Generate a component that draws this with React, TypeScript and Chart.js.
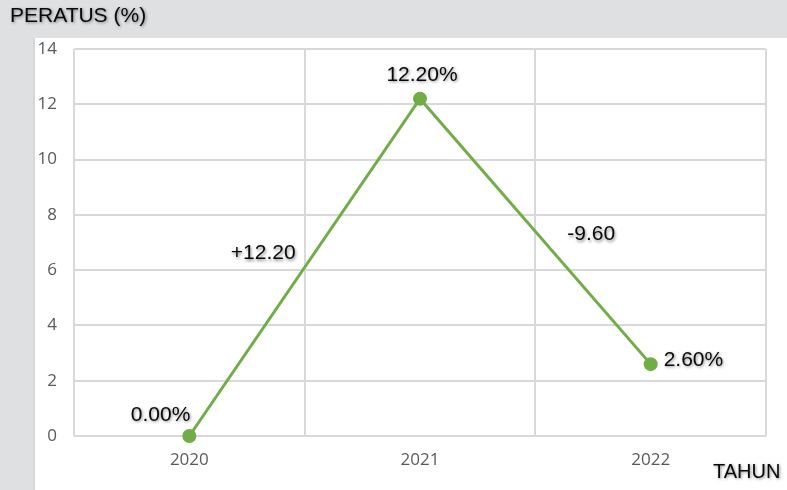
import React, { useEffect, useRef } from "react";
import { Chart, registerables } from "chart.js";

Chart.register(...registerables);

const categories = ["2020", "2021", "2022"];
const values = [0, 12.2, 2.6];
const yTicks = [0, 2, 4, 6, 8, 10, 12, 14];
const yTitle = "PERATUS (%)";
const xTitle = "TAHUN";

const W = 787;
const H = 490;

const fmtPct = (v: number) => v.toFixed(2) + "%";
const fmtDiff = (d: number) => (d >= 0 ? "+" : "") + d.toFixed(2);

const backgroundPlugin = {
  id: "bgPanel",
  beforeDraw(chart: any) {
    const ctx = chart.ctx;
    ctx.save();
    ctx.fillStyle = "#dfe0e1";
    ctx.fillRect(0, 0, chart.width, chart.height);
    ctx.fillStyle = "#d6d7d8";
    ctx.fillRect(33, 38, 2, chart.height - 38);
    ctx.fillStyle = "#ffffff";
    ctx.fillRect(35, 38, chart.width - 35, chart.height - 38);
    ctx.restore();
  },
};

const labelsPlugin = {
  id: "pointLabels",
  afterDatasetsDraw(chart: any) {
    const ctx = chart.ctx;
    const meta = chart.getDatasetMeta(0);
    const pts = meta.data;
    ctx.save();
    ctx.font = "21px 'Liberation Sans', Arial, sans-serif";
    ctx.fillStyle = "#0a0a0a";
    ctx.shadowColor = "rgba(0,0,0,0.45)";
    ctx.shadowBlur = 3;
    ctx.shadowOffsetX = 1;
    ctx.shadowOffsetY = 1.5;
    ctx.textBaseline = "middle";
    const placements = [
      { align: "right", dx: 1, dy: -21 },
      { align: "center", dx: 2, dy: -24 },
      { align: "left", dx: 13, dy: -4 },
    ];
    pts.forEach((p: any, i: number) => {
      const pl = placements[i];
      ctx.textAlign = pl.align;
      ctx.fillText(fmtPct(values[i]), p.x + pl.dx, p.y + pl.dy);
    });
    const diffPl = [
      { align: "right", dx: -9, dy: -14 },
      { align: "left", dx: 32, dy: 3 },
    ];
    for (let i = 0; i < pts.length - 1; i++) {
      const a = pts[i];
      const b = pts[i + 1];
      const mx = (a.x + b.x) / 2;
      const my = (a.y + b.y) / 2;
      const pl = diffPl[i];
      ctx.textAlign = pl.align;
      ctx.fillText(fmtDiff(values[i + 1] - values[i]), mx + pl.dx, my + pl.dy);
    }
    ctx.textAlign = "left";
    ctx.font = "21px 'Liberation Sans', Arial, sans-serif";
    ctx.fillText(yTitle, 10, 16);
    ctx.font = "20px 'Liberation Sans', Arial, sans-serif";
    ctx.fillText(xTitle, 713, 472);
    ctx.restore();
  },
};

export default function App() {
  const ref = useRef<HTMLCanvasElement | null>(null);
  useEffect(() => {
    document.body.style.margin = "0";
    const canvas = ref.current;
    if (!canvas) return;
    const chart = new Chart(canvas, {
      type: "line",
      data: {
        labels: categories,
        datasets: [
          {
            data: values,
            borderColor: "#70ad47",
            backgroundColor: "#70ad47",
            borderWidth: 3,
            pointRadius: 5.5,
            pointBackgroundColor: "#70ad47",
            pointBorderColor: "#70ad47",
            tension: 0,
            fill: false,
            clip: false,
          },
        ],
      },
      options: {
        responsive: false,
        animation: false,
        devicePixelRatio: 1,
        layout: { padding: { top: 49, right: 21, left: 0, bottom: 0 } },
        plugins: {
          legend: { display: false },
          tooltip: { enabled: false },
          title: { display: false },
        },
        scales: {
          x: {
            type: "category",
            offset: true,
            grid: {
              offset: true,
              color: "#d9d9d9",
              lineWidth: 2,
              drawTicks: false,
            },
            border: { display: false },
            ticks: {
              color: "#595959",
              font: { family: "'Open Sans', sans-serif", size: 17 },
              padding: 14,
            },
            afterFit(scale: any) {
              scale.height = 54;
            },
          },
          y: {
            min: yTicks[0],
            max: yTicks[yTicks.length - 1],
            afterBuildTicks(scale: any) {
              scale.ticks = yTicks.map((v) => ({ value: v }));
            },
            grid: {
              color: "#d9d9d9",
              lineWidth: 2,
              drawTicks: false,
            },
            border: { display: false },
            ticks: {
              color: "#595959",
              font: { family: "'Open Sans', sans-serif", size: 17 },
              padding: 17,
            },
            afterFit(scale: any) {
              scale.width = 74;
            },
          },
        },
      },
      plugins: [backgroundPlugin, labelsPlugin],
    });
    return () => chart.destroy();
  }, []);
  return <canvas ref={ref} width={W} height={H} style={{ display: "block", width: W, height: H }} />;
}
